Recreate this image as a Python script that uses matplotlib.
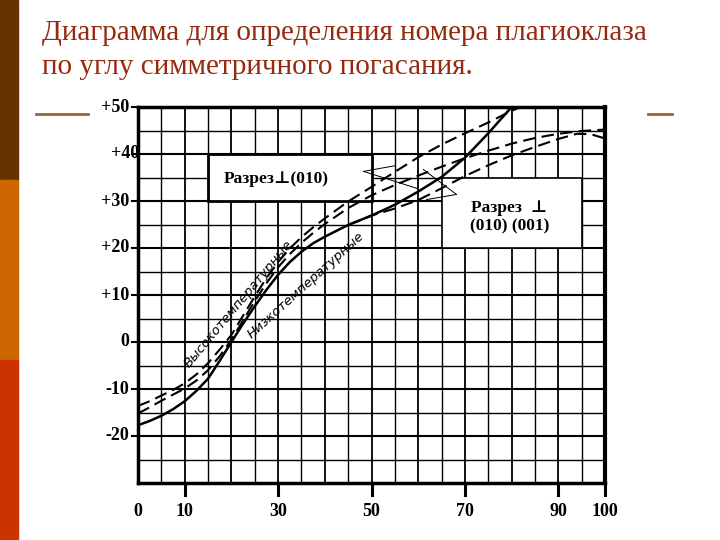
import numpy as np
import matplotlib
matplotlib.use("Agg")
import matplotlib.pyplot as plt
from matplotlib.patches import Rectangle
from matplotlib.lines import Line2D

# An % (plagioclase number) vs symmetric extinction angle
an_low = [0, 2.5, 5, 7.5, 10, 12.5, 15, 17.5, 20, 22.5, 25, 27.5, 30, 32.5, 35, 37.5, 40, 45, 50, 55, 60, 65, 70, 75, 80]
ext_low = [-17.7, -16.8, -15.7, -14.3, -12.6, -10.4, -7.8, -4.0, 0.0, 3.9, 7.6, 11.1, 14.3, 17.0, 19.2, 21.0, 22.4, 24.9, 26.9, 29.2, 32.0, 35.1, 39.2, 44.4, 50.0]

an_high = [0, 2.5, 5, 7.5, 10, 12.5, 15, 17.5, 20, 22.5, 25, 27.5, 30, 32.5, 35, 37.5, 40, 45, 50, 55, 60, 65, 70, 75, 80, 82]
ext_high = [-13.6, -12.6, -11.4, -10.2, -8.8, -6.9, -4.5, -1.6, 1.5, 5.6, 9.7, 13.6, 17.0, 19.9, 22.3, 24.4, 26.3, 29.9, 33.0, 36.2, 39.3, 42.0, 44.4, 46.7, 49.2, 50.0]

an_a_high = [0, 2.5, 5, 7.5, 10, 12.5, 15, 17.5, 20, 22.5, 25, 27.5, 30, 32.5, 35, 37.5, 40, 45, 50, 55, 60, 65, 70, 75, 80, 85, 90, 95, 100]
ext_a_high = [-15.2, -13.9, -12.5, -11.2, -9.9, -8.2, -6.0, -3.0, 0.5, 4.6, 8.7, 12.5, 15.9, 18.7, 21.1, 23.2, 25.1, 28.5, 31.2, 33.4, 35.4, 37.3, 39.1, 40.7, 42.2, 43.4, 44.3, 44.9, 45.2]

an_a_low = [45, 50, 55, 60, 65, 70, 75, 80, 85, 90, 94, 97, 100]
ext_a_low = [24.9, 26.9, 28.4, 30.2, 32.7, 35.3, 37.6, 39.7, 41.5, 43.2, 44.3, 44.2, 43.3]

x_ticks = [0, 10, 30, 50, 70, 90, 100]
y_ticks = [50, 40, 30, 20, 10, 0, -10, -20]
y_tick_labels = ["+50", "+40", "+30", "+20", "+10", "0", "-10", "-20"]

title = "Диаграмма для определения номера плагиоклаза\nпо углу симметричного погасания."

serif = ["Liberation Serif", "DejaVu Serif"]

fig = plt.figure(figsize=(7.2, 5.4), dpi=100)
fig.patch.set_facecolor("white")

# left colour strip of the slide
W, H = 720.0, 540.0
for y0, y1, c in [(0, 180, "#663300"), (180, 360, "#cc6600"), (360, 540, "#cc3300")]:
    fig.patches.append(Rectangle((0, 1 - y1 / H), 18 / W, (y1 - y0) / H,
                                 transform=fig.transFigure, color=c, zorder=0))

# title
fig.text(42 / W, 1 - 50 / H, title, fontsize=21, family=serif, color="#952a0e",
         ha="left", va="center", linespacing=1.38)

# small decorative lines
fig.lines.append(Line2D([36 / W, 88 / W], [1 - 114 / H] * 2, transform=fig.transFigure,
                        color="#996633", lw=2))
fig.lines.append(Line2D([648 / W, 672 / W], [1 - 114 / H] * 2, transform=fig.transFigure,
                        color="#996633", lw=2))

ax = fig.add_axes([138 / W, 57 / H, 467 / W, 376 / H])
ax.set_xlim(0, 100)
ax.set_ylim(-30, 50)
ax.set_xticks([])
ax.set_yticks([])
for s in ax.spines.values():
    s.set_linewidth(2.5)
ax.spines["right"].set_linewidth(3)

# squared grid
for gx in range(5, 100, 5):
    ax.axvline(gx, color="black", lw=1.3 if gx % 10 == 0 else 1.0, zorder=1)
for gy in range(-25, 50, 5):
    ax.axhline(gy, color="black", lw=1.5 if gy % 10 == 0 else 1.0, zorder=1)

# label boxes
ax.add_patch(Rectangle((15, 30), 35, 10, facecolor="white", edgecolor="black", lw=2, zorder=2))
ax.text(29.5, 34.6, "Разрез⊥(010)", fontsize=12.5, fontweight="bold", family=serif,
        ha="center", va="center", zorder=5)
ax.add_patch(Rectangle((65, 20), 30, 15, facecolor="white", edgecolor="black", lw=1.2, zorder=2))
ax.text(79.5, 28.6, "Разрез  ⊥", fontsize=12.5, fontweight="bold", family=serif,
        ha="center", va="center", zorder=5)
ax.text(79.5, 24.6, "(010) (001)", fontsize=12.5, fontweight="bold", family=serif,
        ha="center", va="center", zorder=5)

# leader lines
ax.plot([48.3, 60.0], [36.3, 32.6], color="black", lw=0.7, zorder=4)
ax.plot([48.3, 55.0], [36.3, 37.5], color="black", lw=0.7, zorder=4)
ax.plot([68.2, 61.1], [31.4, 36.7], color="black", lw=0.7, zorder=4)
ax.plot([68.2, 61.8], [31.4, 30.3], color="black", lw=0.7, zorder=4)

# curves
ax.plot(an_low, ext_low, color="black", lw=1.8, zorder=4)
ax.plot(an_high, ext_high, color="black", lw=1.5, ls=(0, (6, 3)), zorder=4)
ax.plot(an_a_high, ext_a_high, color="black", lw=1.5, ls=(0, (6, 3)), zorder=4)
ax.plot(an_a_low, ext_a_low, color="black", lw=1.5, ls=(0, (6, 3)), zorder=4)

ax.text(21.5, 8.0, "Высокотемпературные", fontsize=9.5, style="italic", rotation=50,
        ha="center", va="center", zorder=5)
ax.text(36.0, 12.0, "Низкотемпературные", fontsize=9.5, style="italic", rotation=42,
        ha="center", va="center", zorder=5)

# axis labels and ticks
for v, lab in zip(y_ticks, y_tick_labels):
    ax.text(-1.8 if v != 40 else 0.2, v, lab, fontsize=13, fontweight="bold", family=serif,
            ha="right", va="center", clip_on=False)
    ax.plot([-1.2, 0], [v, v], color="black", lw=1.5, clip_on=False)
for v in x_ticks:
    ax.text(v, -36.0, str(v), fontsize=13, fontweight="bold", family=serif,
            ha="center", va="center", clip_on=False)
    if v > 0:
        ax.plot([v, v], [-30, -32.6], color="black", lw=2.2, clip_on=False)

fig.savefig("out.png", dpi=100)
